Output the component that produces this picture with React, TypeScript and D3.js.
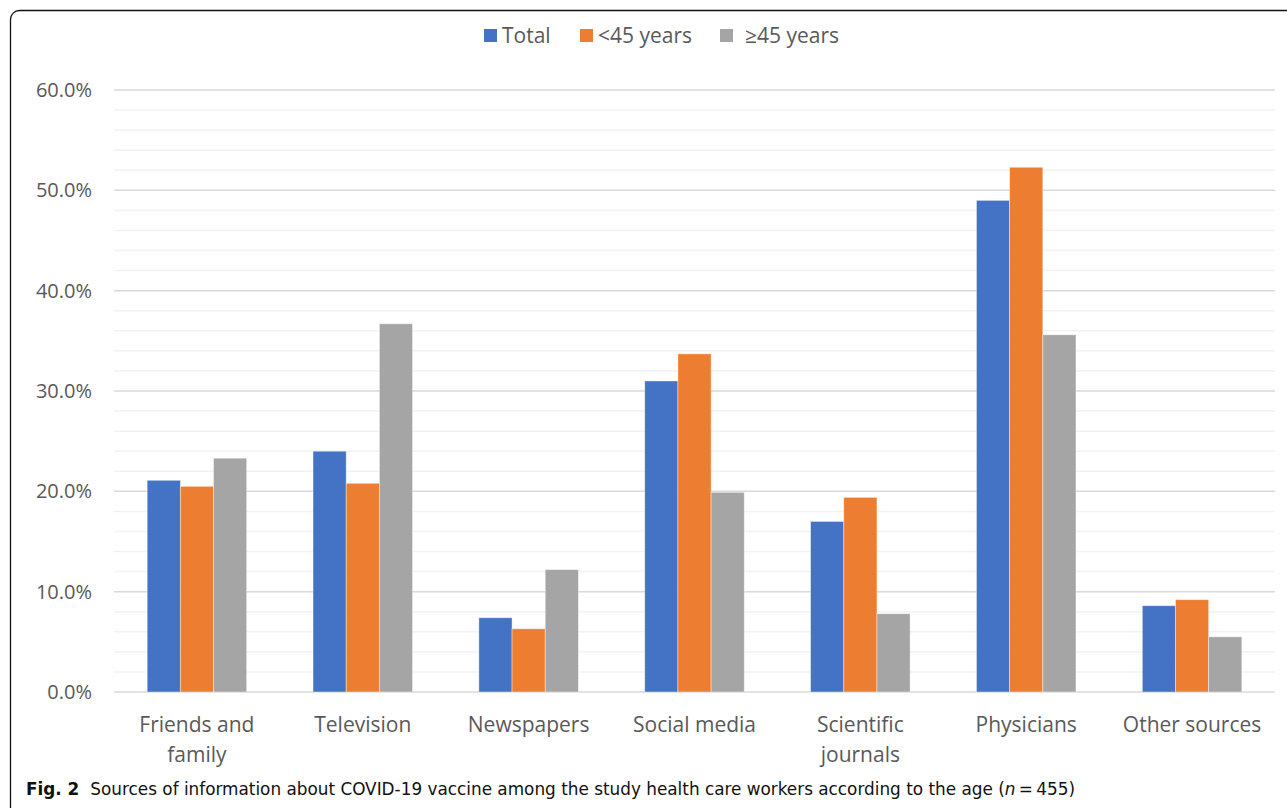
import { useEffect, useRef } from 'react'
import * as d3 from 'd3'

const categories = [
  ['Friends and', 'family'],
  ['Television'],
  ['Newspapers'],
  ['Social media'],
  ['Scientific', 'journals'],
  ['Physicians'],
  ['Other sources'],
]
const seriesNames = ['Total', '<45 years', '≥45 years']
const seriesColors = ['#4472C4', '#ED7D31', '#A5A5A5']

const totalValues = [21.1, 24.0, 7.4, 31.0, 17.0, 49.0, 8.6]
const youngValues = [20.5, 20.8, 6.3, 33.7, 19.4, 52.3, 9.2]
const olderValues = [23.3, 36.7, 12.2, 19.9, 7.8, 35.6, 5.5]

const majorTicks = [0, 10, 20, 30, 40, 50, 60]
const minorTicks = [2, 4, 6, 8, 12, 14, 16, 18, 22, 24, 26, 28, 32, 34, 36, 38, 42, 44, 46, 48, 52, 54, 56, 58]

const W = 1287
const H = 808
const PLOT = { left: 114, right: 1275, top: 90, bottom: 692 }
const TEXT_GRAY = '#595959'
const FONT = '"Open Sans", "Noto Sans", sans-serif'

export default function App() {
  const svgRef = useRef<SVGSVGElement>(null)

  useEffect(() => {
    document.body.style.margin = '0'
    if (!svgRef.current) return
    const svg = d3.select(svgRef.current)
    svg.selectAll('*').remove()

    const keys = categories.map((c) => c.join(' '))
    const values = [totalValues, youngValues, olderValues]

    const x0 = d3.scaleBand<string>().domain(keys).range([PLOT.left, PLOT.right]).paddingInner(0.4).paddingOuter(0.2)
    const x1 = d3.scaleBand<number>().domain([0, 1, 2]).range([0, x0.bandwidth()])
    const y = d3.scaleLinear().domain([0, 60]).range([PLOT.bottom, PLOT.top])

    // frame (runs off the right and bottom edges)
    svg.append('rect')
      .attr('x', 10.5).attr('y', 10.5)
      .attr('width', W + 20).attr('height', H + 20)
      .attr('rx', 9)
      .attr('fill', 'white')
      .attr('stroke', '#111').attr('stroke-width', 1.3)

    // gridlines: minor every 2%, major every 10%
    const grid = svg.append('g')
    grid.selectAll('line.minor').data(minorTicks).join('line')
      .attr('class', 'minor')
      .attr('x1', PLOT.left).attr('x2', PLOT.right)
      .attr('y1', (d) => y(d)).attr('y2', (d) => y(d))
      .attr('stroke', '#f2f2f2').attr('stroke-width', 1.5)
    grid.selectAll('line.major').data(majorTicks).join('line')
      .attr('class', 'major')
      .attr('x1', PLOT.left).attr('x2', PLOT.right)
      .attr('y1', (d) => y(d)).attr('y2', (d) => y(d))
      .attr('stroke', '#d9d9d9').attr('stroke-width', 1.5)

    // y labels
    svg.append('g').selectAll('text').data(majorTicks).join('text')
      .attr('x', 92).attr('y', (d) => y(d))
      .attr('dy', '0.35em')
      .attr('text-anchor', 'end')
      .attr('fill', TEXT_GRAY)
      .attr('font-family', FONT).attr('font-size', 20)
      .text((d) => `${d.toFixed(1)}%`)

    // bars
    const groups = svg.append('g').selectAll('g').data(keys).join('g')
      .attr('transform', (d) => `translate(${x0(d)},0)`)
    groups.selectAll('rect').data((_, i) => values.map((v, s) => ({ s, v: v[i] }))).join('rect')
      .attr('x', (d) => x1(d.s)!)
      .attr('width', x1.bandwidth())
      .attr('y', (d) => y(d.v))
      .attr('height', (d) => y(0) - y(d.v))
      .attr('fill', (d) => seriesColors[d.s])
      .attr('stroke', 'rgba(255,255,255,0.5)').attr('stroke-width', 0.8)

    // category labels
    const labels = svg.append('g').selectAll('text').data(categories).join('text')
      .attr('x', (_, i) => x0(keys[i])! + x0.bandwidth() / 2)
      .attr('y', 732)
      .attr('text-anchor', 'middle')
      .attr('fill', TEXT_GRAY)
      .attr('font-family', FONT).attr('font-size', 21)
    labels.selectAll('tspan').data((d) => d).join('tspan')
      .attr('x', function () { return (this.parentNode as SVGTextElement).getAttribute('x') })
      .attr('dy', (_, i) => (i === 0 ? 0 : 30))
      .text((d) => d)

    // legend
    const legendX = [484, 580, 720]
    const legend = svg.append('g').selectAll('g').data(seriesNames).join('g')
      .attr('transform', (_, i) => `translate(${legendX[i]},29)`)
    legend.append('rect').attr('width', 13).attr('height', 13).attr('fill', (_, i) => seriesColors[i])
    legend.append('text')
      .attr('x', (_, i) => (i === 2 ? 25 : 18)).attr('y', 7)
      .attr('dy', '0.35em')
      .attr('fill', TEXT_GRAY)
      .attr('font-family', FONT).attr('font-size', 21)
      .text((d) => d)

    // caption
    const cap = svg.append('text')
      .attr('x', 26).attr('y', 795)
      .attr('fill', '#111')
      .attr('font-family', '"DejaVu Sans Condensed", "Noto Sans", sans-serif').attr('font-size', 17)
      .attr('textLength', 1049).attr('lengthAdjust', 'spacingAndGlyphs')
    cap.append('tspan').attr('font-weight', 'bold').text('Fig. 2')
    cap.append('tspan').attr('dx', 10).text('Sources of information about COVID-19 vaccine among the study health care workers according to the age (')
    cap.append('tspan').attr('font-style', 'italic').text('n')
    cap.append('tspan').text('\u2009=\u2009455)')
  }, [])

  return <svg ref={svgRef} width={W} height={H} style={{ display: 'block' }} />
}
